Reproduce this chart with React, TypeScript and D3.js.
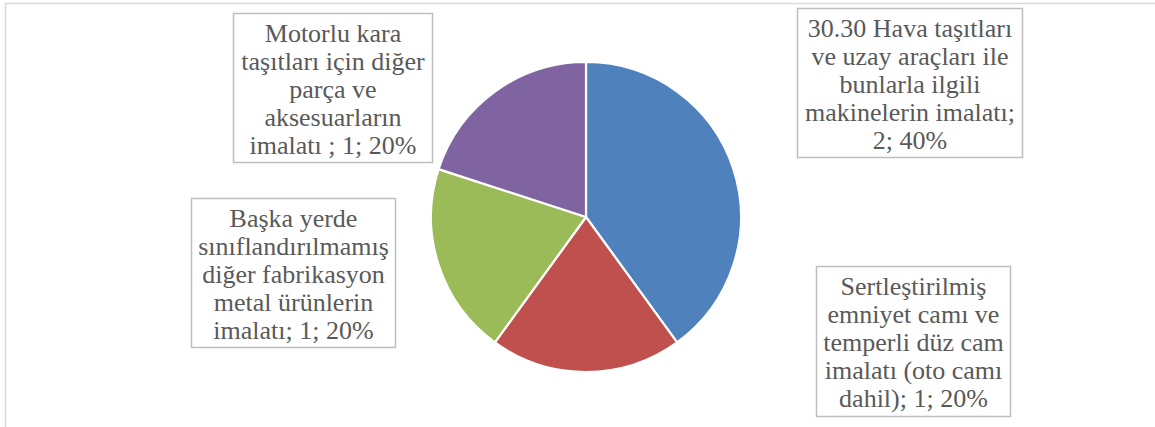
import React from "react";
import * as d3 from "d3";

const categories = [
  "30.30 Hava taşıtları ve uzay araçları ile bunlarla ilgili makinelerin imalatı",
  "Sertleştirilmiş emniyet camı ve temperli düz cam imalatı (oto camı dahil)",
  "Başka yerde sınıflandırılmamış diğer fabrikasyon metal ürünlerin imalatı",
  "Motorlu kara taşıtları için diğer parça ve aksesuarların imalatı ",
];
const values = [2, 1, 1, 1];
const colors = ["#4F81BD", "#C0504D", "#9BBB59", "#8064A2"];
const labelLines = [
  ["30.30 Hava taşıtları", "ve uzay araçları ile", "bunlarla ilgili", "makinelerin imalatı;", "2; 40%"],
  ["Sertleştirilmiş", "emniyet camı ve", "temperli düz cam", "imalatı (oto camı", "dahil); 1; 20%"],
  ["Başka yerde", "sınıflandırılmamış", "diğer fabrikasyon", "metal ürünlerin", "imalatı; 1; 20%"],
  ["Motorlu kara", "taşıtları için diğer", "parça ve", "aksesuarların", "imalatı ; 1; 20%"],
];

// layout of the label boxes
const boxes = [
  { x: 797.5, y: 8.5, w: 225, h: 149 },
  { x: 816.5, y: 266.5, w: 194, h: 150 },
  { x: 191.5, y: 198.5, w: 204, h: 149 },
  { x: 233.5, y: 13.5, w: 199, h: 149 },
];

const W = 1155;
const H = 427;
const cx = 586;
const cy = 217;
const R = 155;

export default function App() {
  const pie = d3.pie<number>().sort(null).value((d) => d).startAngle(0).endAngle(2 * Math.PI);
  const arcs = pie(values);
  const arc = d3.arc<d3.PieArcDatum<number>>().innerRadius(0).outerRadius(R);
  const fontFamily = "'Liberation Serif', 'Times New Roman', serif";
  const fs = 26;
  const lh = 28;

  return (
    <svg
      width={W}
      height={H}
      style={{ position: "absolute", left: 0, top: 0, display: "block", background: "#fff" }}
    >
      <rect x={5.5} y={3.5} width={W + 20} height={H + 20} fill="#fff" stroke="#D9D9D9" strokeWidth={1.5} />
      <g transform={`translate(${cx},${cy})`}>
        {arcs.map((a, i) => (
          <path key={i} d={arc(a) || ""} fill={colors[i]} stroke="#fff" strokeWidth={2.2} strokeLinejoin="round">
            <title>{categories[i]}</title>
          </path>
        ))}
      </g>
      {boxes.map((b, i) => (
        <g key={i}>
          <rect x={b.x} y={b.y} width={b.w} height={b.h} fill="#fff" stroke="#BFBFBF" strokeWidth={1.5} />
          {labelLines[i].map((line, j) => (
            <text
              key={j}
              x={b.x + b.w / 2}
              y={b.y + 28.5 + j * lh}
              textAnchor="middle"
              fontFamily={fontFamily}
              fontSize={fs}
              fill="#595959"
            >
              {line}
            </text>
          ))}
        </g>
      ))}
    </svg>
  );
}
